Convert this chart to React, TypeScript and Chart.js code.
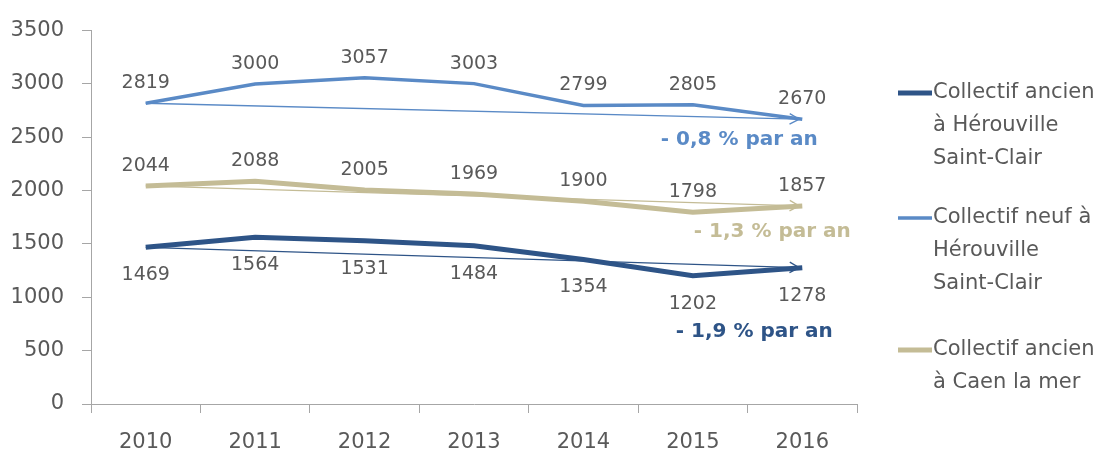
import React, { useEffect, useRef } from "react";
import { Chart, registerables } from "chart.js";

Chart.register(...registerables);

const categories = ["2010", "2011", "2012", "2013", "2014", "2015", "2016"];
const ancienHerouville = [1469, 1564, 1531, 1484, 1354, 1202, 1278];
const neufHerouville = [2819, 3000, 3057, 3003, 2799, 2805, 2670];
const ancienCaen = [2044, 2088, 2005, 1969, 1900, 1798, 1857];
const seriesNames = [
  ["Collectif ancien", "à Hérouville", "Saint-Clair"],
  ["Collectif neuf à", "Hérouville", "Saint-Clair"],
  ["Collectif ancien", "à Caen la mer"],
];
const trendTexts = ["- 1,9 % par an", "- 0,8 % par an", "- 1,3 % par an"];
const colors = ["#2E5487", "#5A8AC6", "#C4BC96"];
const widths = [5, 3.5, 5];
// label offsets (pixels) relative to point / last point
const labelDy = [28, -20, -20];
const trendOffsets = [
  [-48, 64],
  [-63, 21],
  [-30, 26],
];

const FONT = "'DejaVu Sans', sans-serif";
const TEXT = "#595959";

const overlayPlugin = {
  id: "overlay",
  afterDatasetsDraw(chart: any) {
    const ctx = chart.ctx;
    ctx.save();
    chart.data.datasets.forEach((ds: any, i: number) => {
      const meta = chart.getDatasetMeta(i);
      const pts = meta.data;
      const first = pts[0];
      const last = pts[pts.length - 1];
      // trend arrow
      ctx.strokeStyle = colors[i];
      ctx.lineWidth = 1.3;
      ctx.beginPath();
      ctx.moveTo(first.x, first.y);
      const ex = last.x - 3;
      const ey = last.y;
      ctx.lineTo(ex, ey);
      ctx.stroke();
      const ang = Math.atan2(ey - first.y, ex - first.x);
      const L = 11;
      ctx.beginPath();
      ctx.moveTo(ex - L * Math.cos(ang - 0.5), ey - L * Math.sin(ang - 0.5));
      ctx.lineTo(ex, ey);
      ctx.lineTo(ex - L * Math.cos(ang + 0.5), ey - L * Math.sin(ang + 0.5));
      ctx.stroke();
      // data labels
      ctx.fillStyle = TEXT;
      ctx.font = `19px ${FONT}`;
      ctx.textAlign = "center";
      ctx.textBaseline = "middle";
      pts.forEach((p: any, j: number) => {
        ctx.fillText(String(ds.data[j]), p.x, p.y + labelDy[i]);
      });
      // trend text
      ctx.fillStyle = colors[i];
      ctx.font = `bold 20px ${FONT}`;
      ctx.fillText(trendTexts[i], last.x + trendOffsets[i][0], last.y + trendOffsets[i][1]);
    });
    // legend
    const startY = [93, 218, 350];
    const lx = 898;
    ctx.textAlign = "left";
    ctx.textBaseline = "middle";
    ctx.font = `21px ${FONT}`;
    seriesNames.forEach((lines, i) => {
      ctx.strokeStyle = colors[i];
      ctx.lineWidth = widths[i];
      ctx.beginPath();
      ctx.moveTo(lx, startY[i]);
      ctx.lineTo(lx + 34, startY[i]);
      ctx.stroke();
      ctx.fillStyle = TEXT;
      lines.forEach((t, k) => {
        ctx.fillText(t, lx + 35, startY[i] + k * 33);
      });
    });
    ctx.restore();
  },
};

export default function App() {
  const ref = useRef<HTMLCanvasElement>(null);
  useEffect(() => {
    if (!ref.current) return;
    const chart = new Chart(ref.current, {
      type: "line",
      data: {
        labels: categories,
        datasets: [ancienHerouville, neufHerouville, ancienCaen].map((d, i) => ({
          label: seriesNames[i].join(" "),
          data: d,
          borderColor: colors[i],
          backgroundColor: colors[i],
          borderWidth: widths[i],
          pointRadius: 0,
          tension: 0,
          fill: false,
        })),
      },
      options: {
        animation: false,
        responsive: true,
        maintainAspectRatio: false,
        layout: { padding: { left: 0, right: 247, top: 20, bottom: 0 } },
        plugins: { legend: { display: false }, tooltip: { enabled: false } },
        scales: {
          x: {
            offset: true,
            grid: {
              display: true,
              offset: true,
              drawOnChartArea: false,
              drawTicks: true,
              tickLength: 9,
              color: "#A6A6A6",
            },
            border: { color: "#A6A6A6", width: 1 },
            ticks: { color: TEXT, font: { family: FONT, size: 21 }, padding: 17 },
            afterFit: (s: any) => {
              s.height = 46;
            },
          },
          y: {
            min: 0,
            max: 3500,
            ticks: {
              stepSize: 500,
              color: TEXT,
              font: { family: FONT, size: 21 },
              padding: 18,
              callback: (v: any) => String(v),
            },
            grid: {
              display: true,
              drawOnChartArea: false,
              drawTicks: true,
              tickLength: 9,
              color: "#A6A6A6",
            },
            border: { color: "#A6A6A6", width: 1 },
            afterFit: (s: any) => {
              s.width = 91;
            },
          },
        },
      },
      plugins: [overlayPlugin],
    });
    return () => chart.destroy();
  }, []);
  return (
    <div style={{ position: "absolute", left: 0, top: 0, width: 1104, height: 450, background: "#fff" }}>
      <canvas ref={ref} />
    </div>
  );
}
